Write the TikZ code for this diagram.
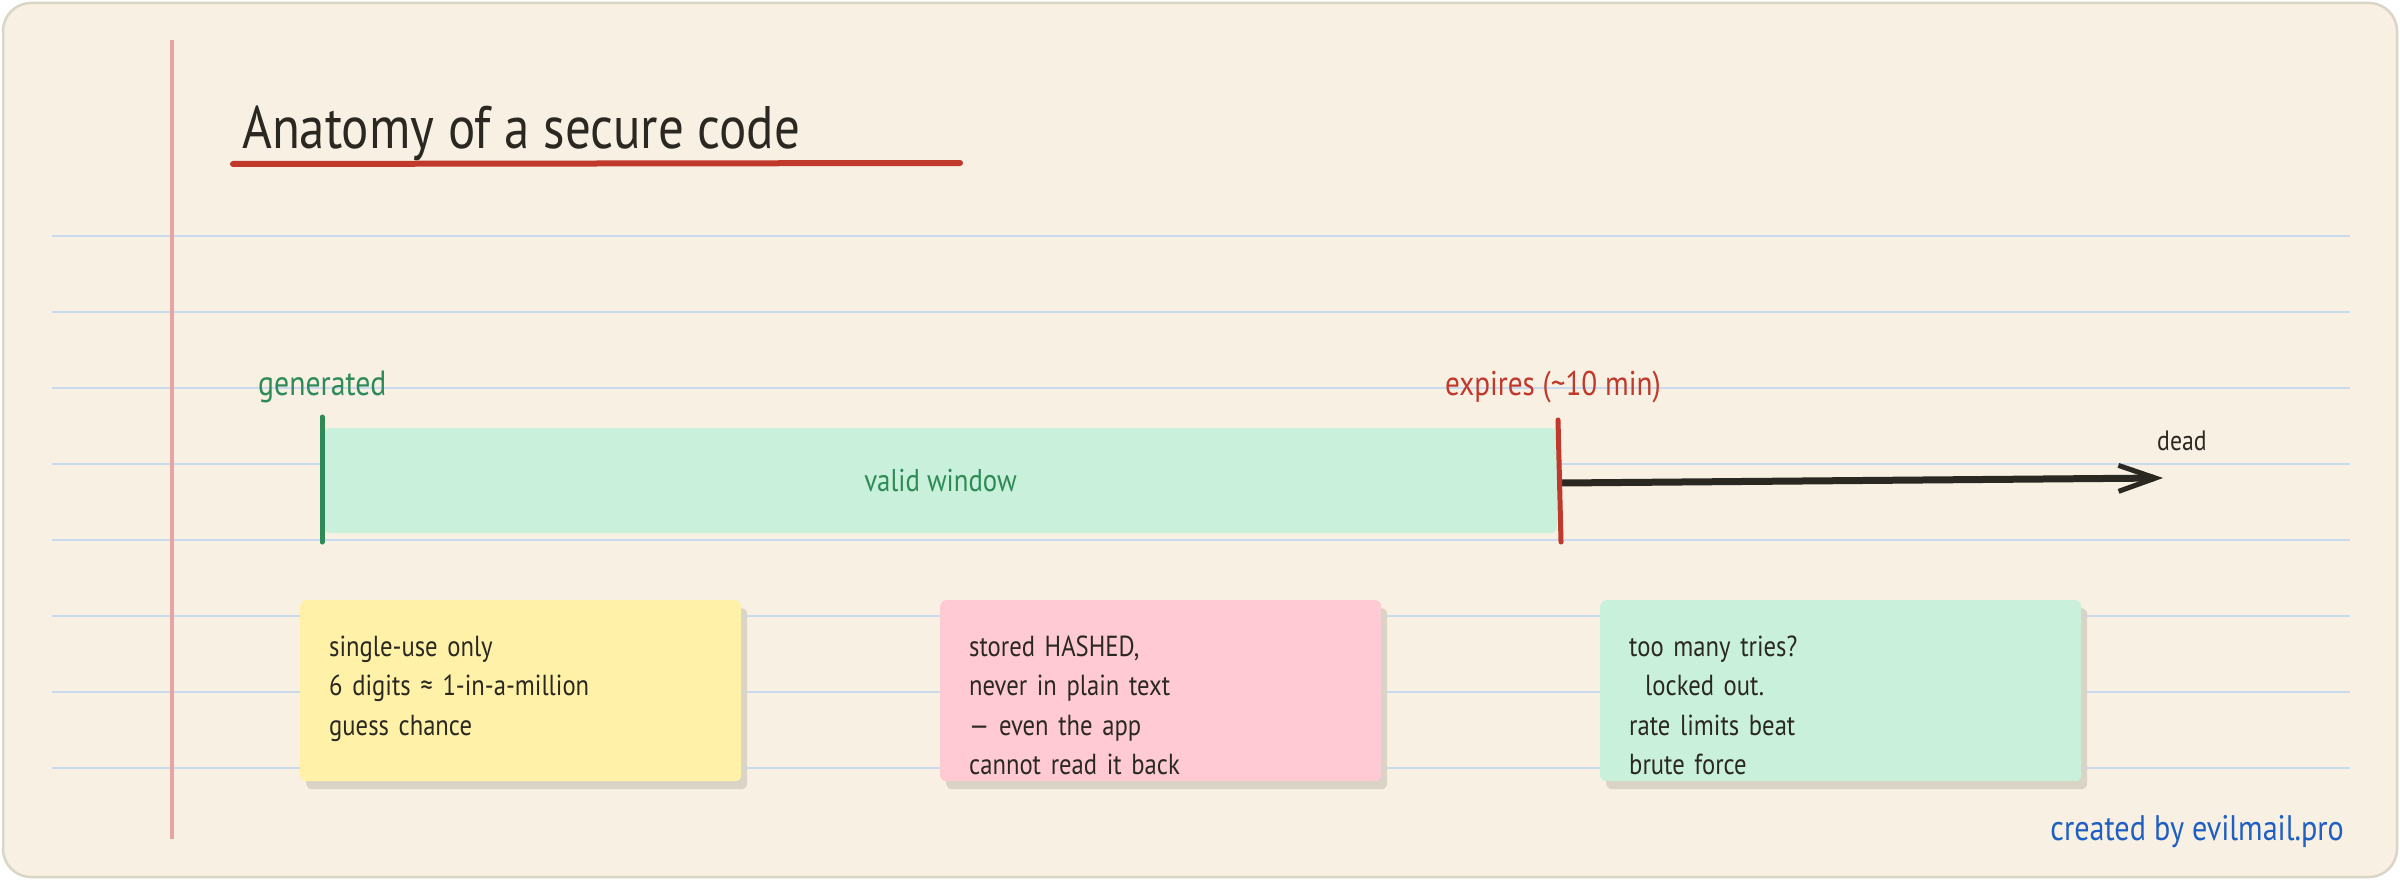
\documentclass[tikz,border=0pt]{standalone}
\usepackage{fontspec}
\setmainfont{PT Sans}
\newfontfamily\hand[FakeStretch=0.85]{PT Sans}
\usetikzlibrary{arrows.meta,shadows}
\definecolor{bgc}{HTML}{F7F0E3}
\definecolor{framec}{HTML}{DAD6C6}
\definecolor{marginc}{HTML}{E6A5A2}
\definecolor{rulec}{HTML}{C9D9EE}
\definecolor{ink}{HTML}{2B2822}
\definecolor{redc}{HTML}{C0392B}
\definecolor{greenc}{HTML}{2E8B57}
\definecolor{mintc}{HTML}{C8F0DA}
\definecolor{yellowc}{HTML}{FFF1A8}
\definecolor{pinkc}{HTML}{FFCAD4}
\definecolor{shadowc}{HTML}{D9D4C5}
\definecolor{bluec}{HTML}{1F5FC1}
\begin{document}
\begin{tikzpicture}[x=1pt,y=-1pt,
  frame/.style={draw=framec,line width=2.5pt,fill=bgc,rounded corners=28pt},
  ruleline/.style={draw=rulec,line width=2pt},
  marginline/.style={draw=marginc,line width=4pt},
  label/.style={inner sep=0pt,anchor=base west},
  note/.style={rounded corners=6pt,minimum width=441pt,minimum height=181pt,anchor=north west,inner sep=0pt,
    drop shadow={shadow xshift=6pt,shadow yshift=-8pt,fill=shadowc,opacity=1}},
  notetext/.style={inner sep=0pt,anchor=base west,text width=440pt,align=left,text=ink,
    font=\hand\fontsize{29}{39.5}\selectfont},
  tick/.style={line width=5pt,line cap=round},
  timeline/.style={draw=ink,line width=7pt,line cap=round,-{Straight Barb[length=37pt,width=26pt,line width=5pt]}}
]
\useasboundingbox (0,0) rectangle (2400,880);
\draw[frame] (3,3) rectangle (2397,877);
\foreach \yy in {236,312,388,464,540,616,692,768}
  \draw[ruleline] (52,\yy) -- (2350,\yy);
\draw[marginline] (172,40) -- (172,839);

% title
\node[label,text=ink,font=\hand\fontsize{60}{64}\selectfont] (title) at (242,148) {Anatomy of a secure code};
\coordinate (ulA) at (233,164);
\coordinate (ulB) at (960,163);
\draw[redc,line width=6pt,line cap=round] (ulA) -- (ulB);

% timeline
\node[fill=mintc,rounded corners=6pt,minimum width=1233pt,minimum height=105pt,inner sep=0pt,
  text=greenc,font=\hand\fontsize{31.5}{36}\selectfont] (win) at (940.5,480.5) {valid window};
\coordinate (gtop) at (322,417);
\coordinate (gbot) at (322,542);
\draw[tick,greenc] (gtop) -- (gbot);
\coordinate (rtop) at (1558,420);
\coordinate (rbot) at (1561,542);
\coordinate (rmid) at (1561,483);
\coordinate (deadtip) at (2163,478);
\draw[timeline] (rmid) -- (deadtip);
\draw[tick,redc] (rtop) -- (rbot);
\node[label,text=greenc,font=\hand\fontsize{35}{40}\selectfont] (gen) at (258,395) {generated};
\node[label,text=redc,font=\hand\fontsize{34.3}{40}\selectfont] (exp) at (1445,395) {expires ({\char"7E}10 min)};
\node[label,text=ink,font=\hand\fontsize{28}{32}\selectfont] (dead) at (2157,450) {dead};

% notes
\node[note,fill=yellowc] (n1) at (300,600) {};
\node[notetext] (t1) at ([xshift=29pt,yshift=-56pt]n1.north west)
  {single-use only\\6 digits ≈ 1-in-a-million\\guess chance};
\node[note,fill=pinkc] (n2) at (940,600) {};
\node[notetext] (t2) at ([xshift=29pt,yshift=-56pt]n2.north west)
  {stored HASHED,\\never in plain text\\— even the app\\cannot read it back};
\node[note,fill=mintc,minimum width=481pt] (n3) at (1600,600) {};
\node[notetext] (t3) at ([xshift=29pt,yshift=-56pt]n3.north west)
  {too many tries?\\\hspace*{16pt}locked out.\\rate limits beat\\brute force};

% footer
\node[inner sep=0pt,anchor=base east,text=bluec,font=\hand\fontsize{35.5}{40}\selectfont] (foot) at (2344,840) {created by evilmail.pro};
\end{tikzpicture}
\end{document}
